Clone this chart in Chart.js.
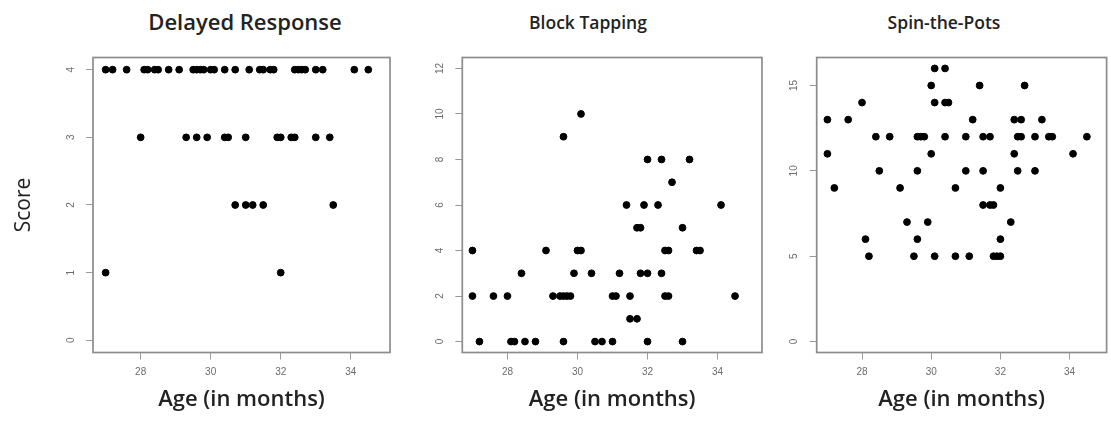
<!DOCTYPE html>
<html>
<head>
<meta charset="utf-8">
<script src="https://cdn.jsdelivr.net/npm/chart.js@4.4.1/dist/chart.umd.min.js"></script>
<style>
  body { margin: 0; background: #fff; width: 1111px; height: 422px; position: relative; overflow: hidden; }
  canvas { position: absolute; top: 0; }
  .ttl { position: absolute; transform: translateX(-50%); white-space: nowrap;
         font-family: "Open Sans", sans-serif; font-weight: 600; line-height: 24px; color: #222; }
</style>
</head>
<body>
<div class="ttl" style="left:245px;top:8.5px;font-size:22px">Delayed Response</div>
<div class="ttl" style="left:588px;top:10px;font-size:17.5px">Block Tapping</div>
<div class="ttl" style="left:944px;top:10px;font-size:17.5px">Spin-the-Pots</div>
<canvas id="c1" width="400" height="422" style="left:0px;width:400px;height:422px"></canvas>
<canvas id="c2" width="376" height="422" style="left:400px;width:376px;height:422px"></canvas>
<canvas id="c3" width="335" height="422" style="left:776px;width:335px;height:422px"></canvas>
<script>
// Delayed Response (score 0-4)
const drAge = [
  27.0, 27.2, 27.6, 28.1, 28.2, 28.4, 28.5, 28.8, 29.1, 29.5, 29.6, 29.7, 29.8, 30.0, 30.1,
  30.4, 30.7, 31.1, 31.4, 31.5, 31.7, 31.8, 32.4, 32.5, 32.6, 32.7, 33.0, 33.2, 34.1, 34.5,
  28.0, 29.3, 29.6, 29.9, 30.4, 30.5, 31.0, 31.9, 32.0, 32.3, 32.4, 33.0, 33.4,
  30.7, 31.0, 31.2, 31.5, 33.5,
  27.0, 32.0
];
const drScore = [
  4, 4, 4, 4, 4, 4, 4, 4, 4, 4, 4, 4, 4, 4, 4,
  4, 4, 4, 4, 4, 4, 4, 4, 4, 4, 4, 4, 4, 4, 4,
  3, 3, 3, 3, 3, 3, 3, 3, 3, 3, 3, 3, 3,
  2, 2, 2, 2, 2,
  1, 1
];

// Block Tapping (score 0-12)
const btAge = [
  30.1,
  29.6,
  32.0, 32.4, 33.2,
  32.7,
  31.4, 31.9, 32.3, 34.1,
  31.7, 31.8, 33.0,
  27.0, 29.1, 30.0, 30.1, 32.5, 32.6, 33.4, 33.5,
  28.4, 29.9, 30.4, 31.2, 31.8, 32.0, 32.4,
  27.0, 27.6, 28.0, 29.3, 29.5, 29.6, 29.7, 29.8, 31.0, 31.1, 31.5, 32.5, 32.6, 34.5,
  31.5, 31.7,
  27.2, 28.1, 28.2, 28.5, 28.8, 29.6, 30.5, 30.7, 31.0, 32.0, 33.0
];
const btScore = [
  10,
  9,
  8, 8, 8,
  7,
  6, 6, 6, 6,
  5, 5, 5,
  4, 4, 4, 4, 4, 4, 4, 4,
  3, 3, 3, 3, 3, 3, 3,
  2, 2, 2, 2, 2, 2, 2, 2, 2, 2, 2, 2, 2, 2,
  1, 1,
  0, 0, 0, 0, 0, 0, 0, 0, 0, 0, 0
];

// Spin-the-Pots (score 0-16)
const spAge = [
  30.1, 30.4,
  30.0, 31.4, 32.7,
  28.0, 30.1, 30.4, 30.5,
  27.0, 27.6, 31.2, 32.4, 32.6, 33.2,
  28.4, 28.8, 29.6, 29.7, 29.8, 30.4, 31.0, 31.5, 31.7, 32.5, 32.6, 33.0, 33.4, 33.5, 34.5,
  27.0, 30.0, 32.4, 34.1,
  28.5, 29.6, 31.0, 31.5, 32.5, 33.0,
  27.2, 29.1, 30.7, 32.0,
  31.5, 31.7, 31.8,
  29.3, 29.9, 32.3,
  28.1, 29.6, 32.0,
  28.2, 29.5, 30.1, 30.7, 31.1, 31.8, 31.9, 32.0
];
const spScore = [
  16, 16,
  15, 15, 15,
  14, 14, 14, 14,
  13, 13, 13, 13, 13, 13,
  12, 12, 12, 12, 12, 12, 12, 12, 12, 12, 12, 12, 12, 12, 12,
  11, 11, 11, 11,
  10, 10, 10, 10, 10, 10,
  9, 9, 9, 9,
  8, 8, 8,
  7, 7, 7,
  6, 6, 6,
  5, 5, 5, 5, 5, 5, 5, 5
];

const ageTicks = [28, 30, 32, 34];
const drTicks = [0, 1, 2, 3, 4];
const btTicks = [0, 2, 4, 6, 8, 10, 12];
const spTicks = [0, 5, 10, 15];

const tickGrey = '#6b6b6b';

// caja completa alrededor del área del gráfico (estilo R)
const boxPlugin = {
  id: 'box',
  afterDraw(chart) {
    const a = chart.chartArea;
    const ctx = chart.ctx;
    ctx.save();
    ctx.strokeStyle = '#8c8c8c';
    ctx.lineWidth = 1.7;
    ctx.strokeRect(a.left, a.top, a.right - a.left, a.bottom - a.top);
    ctx.restore();
  }
};

// etiquetas del eje Y giradas, como en R
const yLabelPlugin = {
  id: 'yLabels',
  afterDraw(chart) {
    const s = chart.scales.y;
    const ctx = chart.ctx;
    ctx.save();
    ctx.fillStyle = tickGrey;
    ctx.font = '10px "Liberation Sans", Arial, sans-serif';
    ctx.textAlign = 'center';
    ctx.textBaseline = 'middle';
    s.ticks.forEach(t => {
      ctx.save();
      ctx.translate(chart.chartArea.left - 22, s.getPixelForValue(t.value));
      ctx.rotate(-Math.PI / 2);
      ctx.fillText(String(t.value), 0, 0);
      ctx.restore();
    });
    ctx.restore();
  }
};

function makePanel(id, ages, scores, yTicks, o) {
  const points = ages.map((a, i) => ({ x: a, y: scores[i] }));
  return new Chart(document.getElementById(id), {
    type: 'scatter',
    data: {
      datasets: [{
        data: points,
        backgroundColor: '#000',
        borderColor: '#000',
        pointRadius: 3.4,
        pointHoverRadius: 3.4
      }]
    },
    options: {
      responsive: false,
      animation: false,
      layout: { padding: { left: 0, right: o.padRight, top: 57.5, bottom: 0 } },
      plugins: { legend: { display: false }, tooltip: { enabled: false } },
      scales: {
        x: {
          type: 'linear',
          min: o.xMin,
          max: o.xMax,
          afterBuildTicks: s => { s.ticks = ageTicks.map(v => ({ value: v })); },
          afterFit: s => { s.height = 422 - 352.5; },
          grid: { display: true, drawOnChartArea: false, drawTicks: true, tickLength: 7, color: '#9a9a9a' },
          border: { display: false },
          ticks: { color: tickGrey, font: { size: 10, family: '"Liberation Sans", Arial, sans-serif' }, padding: 7, maxRotation: 0 },
          title: {
            display: true,
            text: 'Age (in months)',
            color: '#222',
            font: { size: 22, family: '"Open Sans", sans-serif', weight: '600' },
            padding: { top: 0, bottom: 9 }
          }
        },
        y: {
          type: 'linear',
          min: o.yMin,
          max: o.yMax,
          afterBuildTicks: s => { s.ticks = yTicks.map(v => ({ value: v })); },
          afterFit: s => { s.width = o.yWidth; },
          grid: { display: true, drawOnChartArea: false, drawTicks: true, tickLength: 7, color: '#9a9a9a' },
          border: { display: false },
          ticks: { display: false },
          title: {
            display: !!o.yTitle,
            text: o.yTitle || '',
            color: '#222',
            font: { size: 21, family: '"Open Sans", sans-serif' },
            padding: { top: 11, bottom: 0 }
          }
        }
      }
    },
    plugins: [boxPlugin, yLabelPlugin]
  });
}

makePanel('c1', drAge, drScore, drTicks,
  { xMin: 26.64, xMax: 35.12, yMin: -0.18, yMax: 4.18, yWidth: 93, padRight: 10, yTitle: 'Score' });
makePanel('c2', btAge, btScore, btTicks,
  { xMin: 26.71, xMax: 35.27, yMin: -0.48, yMax: 12.48, yWidth: 62.3, padRight: 14 });
makePanel('c3', spAge, spScore, spTicks,
  { xMin: 26.69, xMax: 35.07, yMin: -0.64, yMax: 16.64, yWidth: 40.7, padRight: 1 });
</script>
</body>
</html>
